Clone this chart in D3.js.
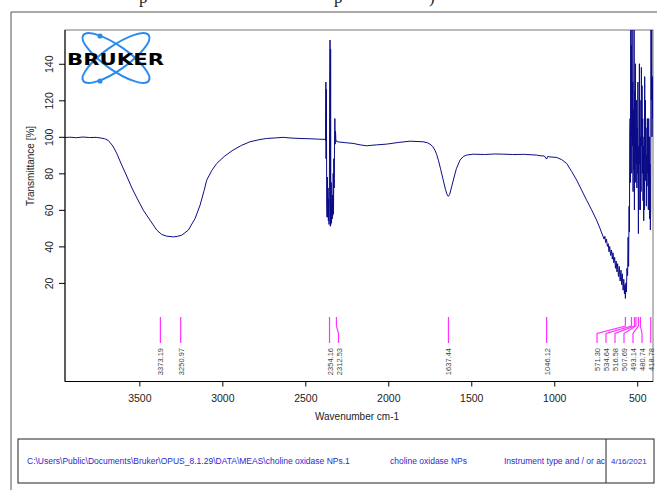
<!DOCTYPE html>
<html>
<head>
<meta charset="utf-8">
<script src="https://cdn.jsdelivr.net/npm/d3@7"></script>
<style>
  html, body { margin: 0; padding: 0; background: #fff; }
  svg { display: block; font-family: "Liberation Sans", Arial, sans-serif; }
</style>
</head>
<body>
<div id="chart"></div>
<script>
// Spectrum: [wavenumber cm-1, transmittance %]
const broadBand = [
  [3948, 99.6], [3920, 99.8], [3880, 99.5], [3840, 99.9], [3800, 99.6], [3760, 99.7],
  [3736, 99.4], [3710, 99.0], [3687, 98.0], [3660, 95.0], [3636, 90.9], [3606, 84.5],
  [3576, 78.5], [3545, 72.0], [3514, 66.4], [3476, 59.8], [3436, 54.4], [3395, 48.9],
  [3365, 46.5], [3335, 45.6], [3295, 45.2], [3270, 45.5], [3245, 46.1], [3205, 48.9],
  [3164, 55.3], [3134, 62.6], [3110, 70.5], [3094, 76.3], [3064, 81.5], [3034, 85.4],
  [2985, 89.5], [2936, 92.7], [2885, 95.3], [2833, 97.3], [2780, 98.4], [2733, 99.1],
  [2680, 99.4], [2634, 99.7], [2580, 99.3], [2532, 99.1], [2460, 98.9], [2420, 98.7],
  [2382, 98.6]
];
const co2Region = [
  [2378, 98.0], [2376, 130], [2375, 88], [2373, 126], [2371, 62], [2369, 56], [2367, 78],
  [2365, 56], [2363, 72], [2361, 54], [2359, 66], [2357, 52], [2355, 70], [2353, 130],
  [2351, 153], [2349, 51], [2347.5, 148], [2346, 52], [2344, 75], [2342, 53], [2340, 64],
  [2338, 55], [2336, 68], [2334, 57], [2332, 80], [2330, 58], [2328, 88], [2326, 72],
  [2324, 95], [2322, 110], [2320, 96], [2318, 103], [2316, 98.5], [2312, 97.5]
];
const midRegion = [
  [2300, 97.2], [2260, 96.8], [2213, 96.4], [2170, 95.6], [2130, 95.1], [2070, 95.6],
  [2010, 96.0], [1940, 96.9], [1869, 97.6], [1791, 97.3], [1765, 96.8], [1749, 96.0],
  [1733, 94.8], [1719, 92.7], [1708, 90.2], [1698, 87.2], [1684, 82.0], [1669, 76.3],
  [1655, 71.0], [1645, 68.2], [1638, 67.4], [1630, 68.5], [1620, 72.0], [1608, 76.3],
  [1590, 82.5], [1568, 87.2], [1548, 89.2], [1528, 90.0], [1488, 90.5], [1420, 90.3],
  [1360, 90.6], [1307, 90.5], [1250, 90.3], [1180, 90.4], [1106, 90.0], [1080, 89.6],
  [1060, 89.5], [1046, 87.8], [1040, 89.2], [1026, 89.0], [985, 88.7], [955, 87.5],
  [925, 85.4], [895, 81.0], [865, 76.3], [835, 70.8], [805, 65.3], [775, 60.0],
  [745, 54.4], [725, 50.0], [705, 45.2]
];
const fingerprint = [
  [700, 44], [695, 45.5], [690, 42], [685, 44], [680, 40], [675, 41.5], [670, 37],
  [666, 40], [660, 35], [655, 38], [650, 33], [646, 36.5], [641, 31], [636, 34],
  [631, 28], [627, 32], [622, 26], [618, 30.5], [613, 23.5], [608, 29], [603, 21],
  [598, 27], [594, 19], [590, 25], [585, 16], [581, 22], [577, 14], [574, 19],
  [571.3, 11.5], [568, 20], [565, 15], [562, 28], [558, 24], [555, 45], [552, 29],
  [549, 62], [547, 48], [545, 100], [543, 110], [541, 75], [539, 170], [537, 100],
  [535, 150], [533, 80], [531, 170], [529, 95], [527, 130], [525, 70], [523, 115],
  [521, 82], [519, 170], [517, 60], [515, 125], [513, 90], [511, 140], [509, 75],
  [507.7, 100], [506, 85], [504, 120], [502, 72], [500, 105], [498, 80], [496, 130],
  [493, 47], [491, 95], [489, 60], [487, 140], [485, 85], [483, 120], [481, 60],
  [479, 100], [477, 70], [475, 138], [473, 95], [471, 128], [469, 80], [467, 110],
  [465, 65], [463, 95], [461, 54], [459, 100], [457, 60], [455, 133], [453, 90],
  [451, 120], [449, 76], [447, 105], [445, 62], [443, 90], [441, 73], [439, 110],
  [437, 80], [435, 95], [433, 60], [431, 110], [429, 75], [427, 100], [425, 55],
  [423, 85], [421, 49], [419, 60], [417, 170], [415, 120], [413, 165], [411, 100],
  [409, 133], [407, 110], [405, 125]
];

// Picked peaks
const peaks = [3373.19, 3250.97, 2354.16, 2312.53, 1637.44, 1046.12,
  571.30, 534.64, 516.58, 507.69, 493.14, 480.74, 418.78];

const xTicks = [3500, 3000, 2500, 2000, 1500, 1000, 500];
const yTicks = [20, 40, 60, 80, 100, 120, 140];

// footer fields as printed (the third one is cut at the column edge)
const footerTexts = [
  'C:\\Users\\Public\\Documents\\Bruker\\OPUS_8.1.29\\DATA\\MEAS\\choline oxidase NPs.1',
  'choline oxidase NPs',
  'Instrument type and / or ac',
  '4/16/2021'
];

// fragments of the cut-off line of text above the figure
const topFragments = ['p', 'p', ')'];

const width = 657, height = 490;
const plot = { left: 65, right: 653, top: 30, bottom: 381.5 };

const svg = d3.select('#chart').append('svg')
  .attr('width', width)
  .attr('height', height);

[139, 334, 429].forEach((px, i) => {
  svg.append('text')
    .attr('x', px).attr('y', 3)
    .style('font-family', '"Liberation Serif", serif')
    .style('font-size', '17px')
    .attr('fill', '#222')
    .text(topFragments[i]);
});

// outer page frame
svg.append('path')
  .attr('d', `M11,${height} L11,12 L${width},12`)
  .attr('fill', 'none')
  .attr('stroke', '#555')
  .attr('stroke-width', 1);

const x = d3.scaleLinear().domain([3948, 405]).range([plot.left, plot.right]);
const y = d3.scaleLinear().domain([-34, 158.5]).range([plot.bottom, plot.top]);

svg.append('clipPath').attr('id', 'clip')
  .append('rect')
  .attr('x', plot.left).attr('y', plot.top)
  .attr('width', plot.right - plot.left).attr('height', plot.bottom - plot.top);

// plot box (top/right in grey)
svg.append('rect')
  .attr('x', plot.left).attr('y', plot.top)
  .attr('width', plot.right - plot.left).attr('height', plot.bottom - plot.top)
  .attr('fill', 'none')
  .attr('stroke', '#777')
  .attr('stroke-width', 1);

// Bruker logo
const logo = svg.append('g').attr('transform', 'translate(116,58)');
[35, -35].forEach(a => {
  logo.append('ellipse')
    .attr('rx', 40).attr('ry', 12)
    .attr('transform', `rotate(${a})`)
    .attr('fill', 'none')
    .attr('stroke', '#2b8cee')
    .attr('stroke-width', 2);
});
[[-16, -22], [-16, 23]].forEach(p => {
  logo.append('circle').attr('cx', p[0]).attr('cy', p[1]).attr('r', 2.6).attr('fill', '#2b8cee');
});
svg.append('text')
  .attr('x', 67).attr('y', 64.5)
  .attr('textLength', 97)
  .attr('lengthAdjust', 'spacingAndGlyphs')
  .style('font-family', '"DejaVu Sans", sans-serif')
  .style('font-weight', 'bold')
  .style('font-size', '15px')
  .attr('fill', '#000')
  .text('BRUKER');

// spectrum
const spectrum = [].concat(broadBand, co2Region, midRegion, fingerprint);
const line = d3.line().x(d => x(d[0])).y(d => y(d[1]));

svg.append('path')
  .datum(spectrum)
  .attr('clip-path', 'url(#clip)')
  .attr('d', line)
  .attr('fill', 'none')
  .attr('stroke', '#0c0c88')
  .attr('stroke-width', 1);

// axes
const xAxis = svg.append('g')
  .attr('transform', `translate(0,${plot.bottom})`)
  .call(d3.axisBottom(x).tickValues(xTicks).tickFormat(d3.format('d'))
    .tickSize(5).tickPadding(8).tickSizeOuter(0));
xAxis.select('.domain').attr('stroke', '#000').attr('d', `M${plot.left},0H${plot.right}`);
xAxis.selectAll('text').style('font-size', '10.5px').attr('fill', '#222');

const yAxis = svg.append('g')
  .attr('transform', `translate(${plot.left},0)`)
  .call(d3.axisLeft(y).tickValues(yTicks).tickSize(6).tickSizeOuter(0));
yAxis.select('.domain').attr('stroke', '#000').attr('d', `M0,${plot.top}V${plot.bottom}`);
yAxis.selectAll('text')
  .attr('x', null).attr('dy', null)
  .attr('text-anchor', 'middle')
  .attr('transform', 'translate(-12,0) rotate(-90)')
  .style('font-size', '10.5px')
  .attr('fill', '#222');

svg.append('text')
  .attr('transform', 'translate(34,166) rotate(-90)')
  .attr('text-anchor', 'middle')
  .style('font-size', '10px')
  .attr('fill', '#222')
  .text('Transmittance [%]');

svg.append('text')
  .attr('x', 357).attr('y', 420)
  .attr('text-anchor', 'middle')
  .style('font-size', '10px')
  .attr('fill', '#222')
  .text('Wavenumber cm-1');

// peak markers, labels spread so they don't overlap
const gap = 9, labelRight = 651;
const marks = peaks.map(p => ({ w: p, ax: x(p) })).sort((a, b) => a.ax - b.ax);
marks.forEach((m, i) => { m.lx = i ? Math.max(m.ax, marks[i - 1].lx + gap) : m.ax; });
for (let i = marks.length - 1; i >= 0; i--) {
  const lim = i === marks.length - 1 ? labelRight : marks[i + 1].lx - gap;
  marks[i].lx = Math.min(marks[i].lx, lim);
}

const peakG = svg.append('g');
peakG.selectAll('path')
  .data(marks)
  .join('path')
  .attr('d', d => Math.abs(d.lx - d.ax) < 0.5
    ? `M${d.ax},317V343`
    : `M${d.ax},317V326L${d.lx},333.5V343`)
  .attr('fill', 'none')
  .attr('stroke', '#ff33ff')
  .attr('stroke-width', 1.2);

peakG.selectAll('text')
  .data(marks)
  .join('text')
  .attr('transform', d => `translate(${d.lx + 3},348) rotate(-90)`)
  .attr('text-anchor', 'end')
  .style('font-size', '7.5px')
  .attr('fill', '#444')
  .text(d => d.w.toFixed(2));

// footer box
const foot = { x: 18, y: 439, w: 636, h: 44, div: 606 };
svg.append('rect')
  .attr('x', foot.x).attr('y', foot.y).attr('width', foot.w).attr('height', foot.h)
  .attr('fill', 'none').attr('stroke', '#222').attr('stroke-width', 1);
svg.append('line')
  .attr('x1', foot.div).attr('x2', foot.div).attr('y1', foot.y).attr('y2', foot.y + foot.h)
  .attr('stroke', '#222').attr('stroke-width', 1);

const footPos = [27, 390, 504, 611];
const footG = svg.append('g');
footerTexts.forEach((t, i) => {
  footG.append('text')
    .attr('x', footPos[i]).attr('y', foot.y + foot.h / 2 + 3)
    .style('font-size', i === 3 ? '8px' : '8.5px')
    .attr('fill', '#2a2ad0')
    .text(t);
});
</script>
</body>
</html>
